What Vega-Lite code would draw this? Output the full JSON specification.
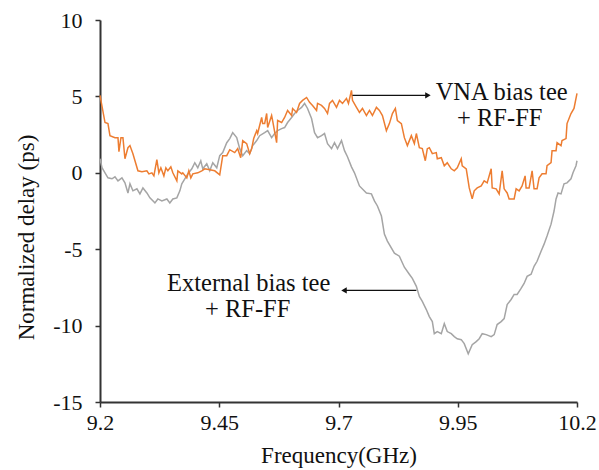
{
  "$schema": "https://vega.github.io/schema/vega-lite/v6.json",
  "width": 477,
  "height": 382,
  "autosize": {"type": "none"},
  "padding": {"left": 100, "top": 20, "right": 22, "bottom": 68},
  "background": "white",
  "config": {
    "view": {"stroke": null},
    "axis": {
      "grid": false,
      "domainColor": "#333333",
      "domainWidth": 2,
      "tickColor": "#333333",
      "tickWidth": 1.5,
      "tickSize": 5,
      "labelFont": "Liberation Serif",
      "labelFontSize": 22,
      "labelColor": "#111111",
      "labelFlush": false,
      "labelOverlap": false,
      "titleFont": "Liberation Serif",
      "titleFontSize": 23,
      "titleFontWeight": "normal",
      "titleColor": "#111111"
    }
  },
  "datasets": {
    "vna": [
      {"f":9.2,"d":5.07},{"f":9.2105,"d":3.29},{"f":9.2167,"d":3.22},{"f":9.2209,"d":2.43},{"f":9.2314,"d":2.3},{"f":9.2377,"d":2.3},{"f":9.2397,"d":1.38},{"f":9.2439,"d":2.3},{"f":9.2481,"d":2.3},{"f":9.2523,"d":0.92},{"f":9.2586,"d":1.64},{"f":9.2628,"d":1.78},{"f":9.269,"d":1.25},{"f":9.2795,"d":0.13},{"f":9.2879,"d":0.07},{"f":9.2983,"d":0.13},{"f":9.3025,"d":-0.07},{"f":9.3088,"d":0},{"f":9.313,"d":-0.2},{"f":9.3192,"d":0.86},{"f":9.3234,"d":0},{"f":9.3276,"d":0.33},{"f":9.3339,"d":-0.2},{"f":9.3381,"d":0.33},{"f":9.3423,"d":0.13},{"f":9.3485,"d":0.39},{"f":9.3527,"d":0},{"f":9.3611,"d":-0.53},{"f":9.3632,"d":0.13},{"f":9.3715,"d":-0.07},{"f":9.3736,"d":0},{"f":9.382,"d":-0.33},{"f":9.3862,"d":0.13},{"f":9.3904,"d":-0.33},{"f":9.3946,"d":-0.07},{"f":9.405,"d":0},{"f":9.4134,"d":0.13},{"f":9.4197,"d":0.26},{"f":9.4301,"d":0.2},{"f":9.4406,"d":0.13},{"f":9.451,"d":-0.13},{"f":9.4573,"d":1.12},{"f":9.4657,"d":1.12},{"f":9.472,"d":1.51},{"f":9.4824,"d":1.32},{"f":9.4887,"d":1.58},{"f":9.495,"d":0.99},{"f":9.4992,"d":2.11},{"f":9.5075,"d":1.91},{"f":9.5138,"d":1.25},{"f":9.518,"d":1.58},{"f":9.5222,"d":2.24},{"f":9.5285,"d":2.76},{"f":9.5305,"d":2.57},{"f":9.5389,"d":3.62},{"f":9.541,"d":3.22},{"f":9.5452,"d":3.22},{"f":9.5494,"d":3.88},{"f":9.5515,"d":2.96},{"f":9.5598,"d":3.75},{"f":9.5619,"d":3.42},{"f":9.5703,"d":1.97},{"f":9.5724,"d":3.42},{"f":9.5808,"d":3.29},{"f":9.587,"d":3.62},{"f":9.5933,"d":4.08},{"f":9.6017,"d":3.75},{"f":9.6038,"d":4.21},{"f":9.6121,"d":3.95},{"f":9.6184,"d":4.54},{"f":9.6247,"d":4.74},{"f":9.6331,"d":4.93},{"f":9.6393,"d":4.61},{"f":9.6456,"d":4.41},{"f":9.654,"d":4.08},{"f":9.6561,"d":4.54},{"f":9.6644,"d":4.41},{"f":9.6707,"d":4.21},{"f":9.677,"d":3.88},{"f":9.6812,"d":4.54},{"f":9.6874,"d":4.74},{"f":9.6958,"d":4.28},{"f":9.7021,"d":4.74},{"f":9.7084,"d":4.54},{"f":9.7167,"d":4.87},{"f":9.7209,"d":4.54},{"f":9.7272,"d":5.39},{"f":9.7293,"d":4.74},{"f":9.7377,"d":4.28},{"f":9.7439,"d":3.95},{"f":9.7502,"d":4.21},{"f":9.7586,"d":3.75},{"f":9.7649,"d":4.08},{"f":9.7711,"d":3.75},{"f":9.7795,"d":4.28},{"f":9.7858,"d":4.08},{"f":9.7921,"d":3.75},{"f":9.8004,"d":2.76},{"f":9.8067,"d":3.22},{"f":9.813,"d":3.88},{"f":9.8192,"d":4.21},{"f":9.8234,"d":3.42},{"f":9.8318,"d":3.22},{"f":9.8381,"d":2.3},{"f":9.8444,"d":1.78},{"f":9.8527,"d":2.43},{"f":9.859,"d":1.91},{"f":9.8632,"d":2.57},{"f":9.8695,"d":1.64},{"f":9.8757,"d":1.58},{"f":9.882,"d":0.79},{"f":9.8862,"d":1.58},{"f":9.8904,"d":1.64},{"f":9.8967,"d":1.25},{"f":9.905,"d":1.32},{"f":9.9071,"d":0.92},{"f":9.9155,"d":0.99},{"f":9.9218,"d":0.46},{"f":9.928,"d":0.66},{"f":9.9364,"d":0.26},{"f":9.9427,"d":0.13},{"f":9.949,"d":0.33},{"f":9.9573,"d":0.92},{"f":9.9594,"d":0.46},{"f":9.9678,"d":0.26},{"f":9.9741,"d":-0.99},{"f":9.9803,"d":-1.71},{"f":9.9845,"d":-1.18},{"f":9.9908,"d":-0.99},{"f":9.9992,"d":-0.86},{"f":10.0054,"d":-0.53},{"f":10.0117,"d":-0.66},{"f":10.0201,"d":0.26},{"f":10.0222,"d":-0.99},{"f":10.0305,"d":-1.05},{"f":10.0368,"d":-1.38},{"f":10.0431,"d":0.13},{"f":10.0473,"d":-1.05},{"f":10.0536,"d":-1.32},{"f":10.0577,"d":-1.71},{"f":10.0682,"d":-1.71},{"f":10.0724,"d":-1.05},{"f":10.0787,"d":-1.18},{"f":10.0849,"d":-0.86},{"f":10.0912,"d":-0.2},{"f":10.0933,"d":-0.99},{"f":10.0996,"d":-0.99},{"f":10.1059,"d":0.13},{"f":10.11,"d":-1.05},{"f":10.1163,"d":-1.05},{"f":10.1205,"d":-0.33},{"f":10.1268,"d":-0.07},{"f":10.1351,"d":-0.07},{"f":10.1372,"d":0.46},{"f":10.1456,"d":0.66},{"f":10.1477,"d":1.45},{"f":10.1561,"d":1.45},{"f":10.1582,"d":1.97},{"f":10.1665,"d":1.78},{"f":10.1686,"d":2.11},{"f":10.177,"d":2.24},{"f":10.1791,"d":3.22},{"f":10.1874,"d":3.88},{"f":10.1937,"d":4.21},{"f":10.2,"d":5.2}
    ],
    "ext": [
      {"f":9.2,"d":0.92},{"f":9.2042,"d":0.33},{"f":9.2105,"d":0},{"f":9.2167,"d":-0.33},{"f":9.2251,"d":-0.39},{"f":9.2314,"d":-0.26},{"f":9.2377,"d":-0.53},{"f":9.246,"d":-0.33},{"f":9.2523,"d":-0.66},{"f":9.2586,"d":-1.32},{"f":9.2628,"d":-0.72},{"f":9.269,"d":-1.18},{"f":9.2774,"d":-1.05},{"f":9.2837,"d":-1.38},{"f":9.29,"d":-0.99},{"f":9.2983,"d":-1.32},{"f":9.3046,"d":-1.64},{"f":9.3151,"d":-1.97},{"f":9.3213,"d":-1.71},{"f":9.3297,"d":-1.84},{"f":9.3402,"d":-1.71},{"f":9.3464,"d":-1.97},{"f":9.3527,"d":-1.71},{"f":9.3611,"d":-1.64},{"f":9.3674,"d":-1.18},{"f":9.3715,"d":-0.72},{"f":9.3778,"d":-0.39},{"f":9.3841,"d":-0.07},{"f":9.3925,"d":0.26},{"f":9.3987,"d":0.66},{"f":9.405,"d":0.33},{"f":9.4113,"d":0.79},{"f":9.4155,"d":0.26},{"f":9.4238,"d":0.59},{"f":9.4301,"d":0.13},{"f":9.4364,"d":0.66},{"f":9.4448,"d":0.33},{"f":9.451,"d":1.12},{"f":9.4573,"d":1.32},{"f":9.4657,"d":1.97},{"f":9.472,"d":2.24},{"f":9.4782,"d":2.63},{"f":9.4866,"d":2.3},{"f":9.4929,"d":1.58},{"f":9.4992,"d":1.12},{"f":9.5075,"d":1.45},{"f":9.5138,"d":1.25},{"f":9.5201,"d":1.78},{"f":9.5285,"d":2.11},{"f":9.5347,"d":2.43},{"f":9.5452,"d":2.63},{"f":9.5515,"d":2.76},{"f":9.5598,"d":2.3},{"f":9.5661,"d":2.57},{"f":9.5724,"d":2.76},{"f":9.5808,"d":2.89},{"f":9.587,"d":2.96},{"f":9.5933,"d":3.29},{"f":9.6017,"d":3.62},{"f":9.6079,"d":3.88},{"f":9.6142,"d":4.08},{"f":9.6226,"d":4.28},{"f":9.6289,"d":4.54},{"f":9.6351,"d":4.21},{"f":9.6435,"d":3.55},{"f":9.6498,"d":2.63},{"f":9.6561,"d":2.3},{"f":9.6644,"d":2.43},{"f":9.6707,"d":2.57},{"f":9.677,"d":1.91},{"f":9.6854,"d":1.58},{"f":9.6916,"d":1.97},{"f":9.6979,"d":1.58},{"f":9.7063,"d":2.11},{"f":9.7126,"d":1.45},{"f":9.7188,"d":1.05},{"f":9.7272,"d":0.39},{"f":9.7335,"d":0},{"f":9.7439,"d":-0.86},{"f":9.7586,"d":-1.32},{"f":9.769,"d":-1.38},{"f":9.7753,"d":-1.84},{"f":9.7816,"d":-2.17},{"f":9.79,"d":-2.83},{"f":9.7962,"d":-4.01},{"f":9.8025,"d":-4.47},{"f":9.8172,"d":-5.26},{"f":9.8276,"d":-5.46},{"f":9.8381,"d":-6.18},{"f":9.8485,"d":-6.64},{"f":9.8548,"d":-6.91},{"f":9.8632,"d":-7.43},{"f":9.8695,"d":-8.09},{"f":9.8757,"d":-8.42},{"f":9.8841,"d":-8.95},{"f":9.8904,"d":-9.41},{"f":9.8967,"d":-9.74},{"f":9.9008,"d":-10.53},{"f":9.9071,"d":-10.39},{"f":9.9155,"d":-10.53},{"f":9.9218,"d":-9.87},{"f":9.928,"d":-10.39},{"f":9.9364,"d":-10.53},{"f":9.9427,"d":-10.72},{"f":9.949,"d":-10.86},{"f":9.9573,"d":-10.92},{"f":9.9636,"d":-11.18},{"f":9.972,"d":-11.84},{"f":9.9803,"d":-11.25},{"f":9.9887,"d":-11.05},{"f":9.995,"d":-10.86},{"f":10.0013,"d":-10.53},{"f":10.0096,"d":-10.59},{"f":10.0201,"d":-10.72},{"f":10.0264,"d":-10.59},{"f":10.0326,"d":-9.93},{"f":10.041,"d":-9.74},{"f":10.0473,"d":-9.54},{"f":10.0536,"d":-8.62},{"f":10.0619,"d":-8.29},{"f":10.0682,"d":-7.96},{"f":10.0745,"d":-7.96},{"f":10.0828,"d":-7.57},{"f":10.0891,"d":-7.24},{"f":10.0954,"d":-6.78},{"f":10.1038,"d":-6.64},{"f":10.11,"d":-6.12},{"f":10.1163,"d":-5.79},{"f":10.1247,"d":-5.13},{"f":10.131,"d":-4.67},{"f":10.1372,"d":-4.14},{"f":10.1456,"d":-3.36},{"f":10.1519,"d":-2.5},{"f":10.1561,"d":-1.71},{"f":10.1603,"d":-1.32},{"f":10.1665,"d":-1.38},{"f":10.1728,"d":-0.72},{"f":10.1791,"d":-0.66},{"f":10.1874,"d":-0.39},{"f":10.1916,"d":0},{"f":10.1979,"d":0.46},{"f":10.2,"d":0.79}
    ],
    "arrows": [
      {"f1": 9.7293, "f2": 9.884, "d": 5.07},
      {"f1": 9.715, "f2": 9.8632, "d": -7.7}
    ],
    "heads": [
      {"f": 9.8875, "d": 5.07, "sh": "triangle-right"},
      {"f": 9.7115, "d": -7.7, "sh": "triangle-left"}
    ],
    "notes": [
      {"f": 10.042, "d": 5.25, "t": "VNA bias tee"},
      {"f": 10.038, "d": 3.55, "t": "+ RF-FF"},
      {"f": 9.5117, "d": -7.3, "t": "External bias tee"},
      {"f": 9.5096, "d": -9.0, "t": "+ RF-FF"}
    ]
  },
  "encoding": {
    "x": {
      "type": "quantitative",
      "scale": {"domain": [9.2, 10.2], "nice": false, "zero": false},
      "axis": {
        "title": "Frequency(GHz)",
        "values": [9.2, 9.45, 9.7, 9.95, 10.2],
        "labelExpr": "'' + datum.value",
        "labelPadding": 5,
        "titlePadding": 11
      }
    },
    "y": {
      "type": "quantitative",
      "scale": {"domain": [-15, 10], "nice": false, "zero": false},
      "axis": {
        "title": "Normalized delay (ps)",
        "values": [-15, -10, -5, 0, 5, 10],
        "labelExpr": "'' + datum.value",
        "labelPadding": 13,
        "titlePadding": 14,
        "titleY": 217
      }
    }
  },
  "layer": [
    {
      "data": {"name": "ext"},
      "mark": {"type": "line", "color": "#A5A5A5", "strokeWidth": 1.5},
      "encoding": {"x": {"field": "f", "type": "quantitative"}, "y": {"field": "d", "type": "quantitative"}}
    },
    {
      "data": {"name": "vna"},
      "mark": {"type": "line", "color": "#ED7D31", "strokeWidth": 1.5},
      "encoding": {"x": {"field": "f", "type": "quantitative"}, "y": {"field": "d", "type": "quantitative"}}
    },
    {
      "data": {"name": "arrows"},
      "mark": {"type": "rule", "color": "#111111", "strokeWidth": 1.3},
      "encoding": {
        "x": {"field": "f1", "type": "quantitative"},
        "x2": {"field": "f2"},
        "y": {"field": "d", "type": "quantitative"}
      }
    },
    {
      "data": {"name": "heads"},
      "mark": {"type": "point", "filled": true, "color": "#111111", "size": 40, "opacity": 1},
      "encoding": {
        "x": {"field": "f", "type": "quantitative"},
        "y": {"field": "d", "type": "quantitative"},
        "shape": {"field": "sh", "type": "nominal", "scale": null}
      }
    },
    {
      "data": {"name": "notes"},
      "mark": {"type": "text", "font": "Liberation Serif", "fontSize": 24.5, "align": "center", "baseline": "middle", "color": "#111111"},
      "encoding": {
        "x": {"field": "f", "type": "quantitative"},
        "y": {"field": "d", "type": "quantitative"},
        "text": {"field": "t"}
      }
    }
  ]
}
